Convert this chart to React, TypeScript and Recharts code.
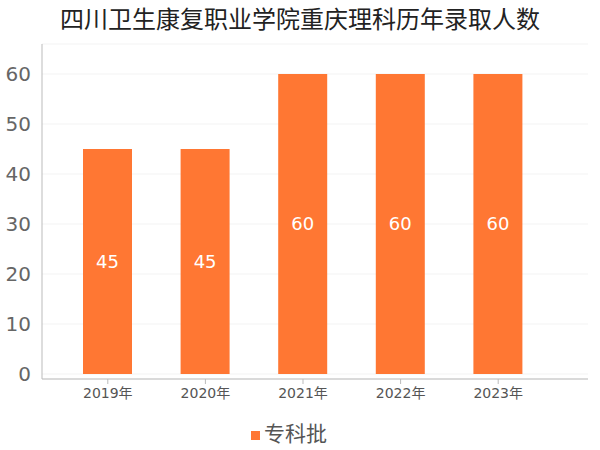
import React from 'react';
import { BarChart, Bar, XAxis, YAxis, CartesianGrid, Legend, LabelList } from 'recharts';

const years = ['2019年', '2020年', '2021年', '2022年', '2023年'];
const admissions = [45, 45, 60, 60, 60];
const yTicks = [0, 10, 20, 30, 40, 50, 60];
const seriesName = '专科批';
const title = '四川卫生康复职业学院重庆理科历年录取人数';

const data = years.map((year, i) => ({ year, value: admissions[i] }));

if (typeof document !== 'undefined') {
  document.body.style.margin = '0';
}

const FONT = '"Noto Sans CJK SC", "Noto Sans", sans-serif';
const NUMFONT = '"DejaVu Sans", "Noto Sans CJK SC", sans-serif';

export default function App() {
  return (
    <div style={{ position: 'relative', width: 600, height: 450, fontFamily: FONT, background: '#fff' }}>
      <div
        style={{
          position: 'absolute',
          top: 2,
          left: 0,
          width: 600,
          textAlign: 'center',
          fontSize: 24,
          lineHeight: '32px',
          color: '#222',
          fontFamily: FONT,
        }}
      >
        {title}
      </div>
      <BarChart
        width={600}
        height={450}
        data={data}
        margin={{ top: 44, right: 12, bottom: 11, left: 0 }}
        style={{ fontFamily: FONT }}
      >
        <CartesianGrid vertical={false} stroke="#f3f3f3" />
        <XAxis
          dataKey="year"
          padding={{ left: 17, right: 41 }}
          axisLine={{ stroke: '#bbb' }}
          tickLine={{ stroke: '#bbb' }}
          tickSize={5}
          tick={{ fill: '#555', fontSize: 14, fontFamily: NUMFONT }}
          tickMargin={4}
        />
        <YAxis
          domain={[-1, 66]}
          ticks={yTicks}
          width={42}
          axisLine={{ stroke: '#bbb' }}
          tickLine={false}
          tick={{ fill: '#666', fontSize: 20, fontFamily: NUMFONT }}
          tickMargin={5}
          interval={0}
        />
        <Legend
          verticalAlign="bottom"
          iconType="square"
          iconSize={9}
          wrapperStyle={{ fontSize: 21, color: '#555', bottom: 3 }}
          formatter={(v: string) => <span style={{ color: '#555', fontSize: 21 }}>{v}</span>}
        />
        <Bar dataKey="value" name={seriesName} fill="#FF7733" barSize={49} isAnimationActive={false}>
          <LabelList dataKey="value" position="center" fill="#fff" fontSize={18} fontFamily={NUMFONT} />
        </Bar>
      </BarChart>
    </div>
  );
}
